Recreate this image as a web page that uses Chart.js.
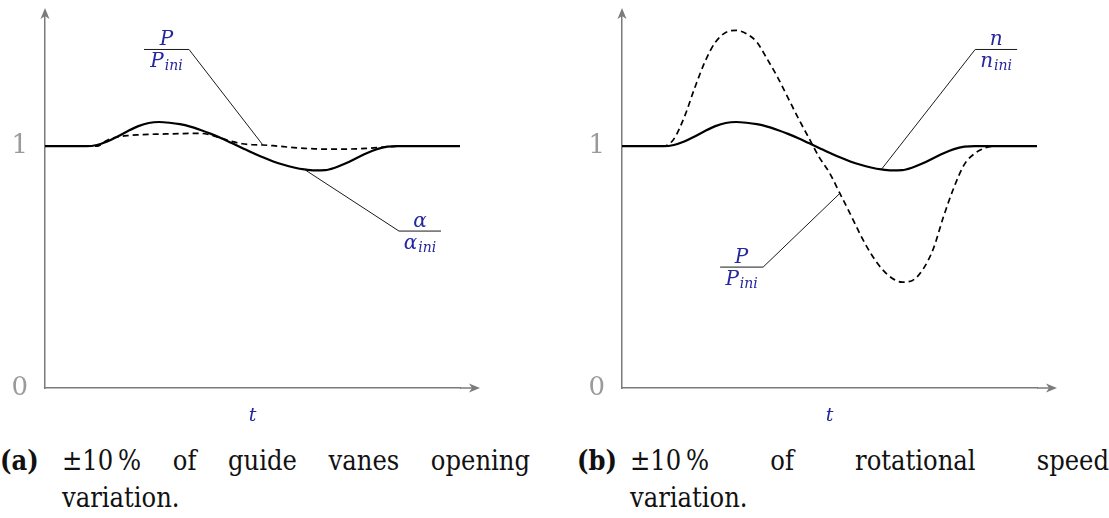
<!DOCTYPE html>
<html>
<head>
<meta charset="utf-8">
<script src="https://cdn.jsdelivr.net/npm/chart.js@4.4.1/dist/chart.umd.min.js"></script>
<style>
  html, body { margin: 0; padding: 0; background: #fff; width: 1109px; height: 518px; overflow: hidden; }
  .panel { position: absolute; top: 0; width: 500px; height: 430px; }
  .caption { position: absolute; top: 442px; display: flex; font-family: 'DejaVu Serif Condensed', 'DejaVu Serif', serif; font-stretch: condensed; font-size: 27px; line-height: 37px; color: #111; }
  .caption .tag { font-weight: bold; }
  .caption .first { text-align: justify; text-align-last: justify; }
</style>
</head>
<body>
<div class="panel" style="left:0"><canvas id="chartVanes"></canvas></div>
<div class="panel" style="left:577px"><canvas id="chartSpeed"></canvas></div>

<div class="caption" style="left:0;width:530px">
  <span class="tag" style="flex:0 0 62px">(a)</span>
  <div style="flex:1"><div class="first">±10&#8239;% of guide vanes opening</div><div>variation.</div></div>
</div>
<div class="caption" style="left:577px;width:532px">
  <span class="tag" style="flex:0 0 53px">(b)</span>
  <div style="flex:1"><div class="first">±10&#8239;% of rotational speed</div><div>variation.</div></div>
</div>

<script>
// time axis (arbitrary units, 0 = start of the run)
const tGrid = [0, 2.5, 5, 7.5, 10, 12.5, 15, 17.5, 20, 22.5, 25, 27.5, 30, 32.5, 35, 37.5, 40,
  42.5, 45, 47.5, 50, 52.5, 55, 57.5, 60, 62.5, 65, 67.5, 70, 72.5, 75, 77.5, 80, 82.5, 85,
  87.5, 90, 92.5, 95, 97.5, 100];

// (a) guide vanes opening alpha/alpha_ini and resulting power P/P_ini
const alphaRatio = [1, 1, 1, 1, 1, 1.005, 1.019, 1.040, 1.063, 1.083, 1.096, 1.100, 1.097, 1.091,
  1.081, 1.067, 1.051, 1.033, 1.013, 0.993, 0.973, 0.954, 0.937, 0.923, 0.912, 0.904, 0.900,
  0.901, 0.912, 0.929, 0.950, 0.971, 0.988, 0.998, 1, 1, 1, 1, 1, 1, 1];
const powerRatioA = [1, 1, 1, 1, 1, 1.000, 1.025, 1.038, 1.044, 1.047, 1.049, 1.050, 1.051, 1.052,
  1.053, 1.053, 1.046, 1.033, 1.020, 1.010, 1.006, 1.005, 1.002, 0.998, 0.994, 0.991, 0.989,
  0.988, 0.988, 0.988, 0.989, 0.991, 0.994, 0.997, 1, 1, 1, 1, 1, 1, 1];

// (b) rotational speed n/n_ini and resulting power P/P_ini
const speedRatio = [1, 1, 1, 1, 1, 1.005, 1.019, 1.040, 1.063, 1.083, 1.096, 1.100, 1.097, 1.091,
  1.081, 1.067, 1.051, 1.033, 1.013, 0.993, 0.973, 0.954, 0.937, 0.923, 0.912, 0.904, 0.900,
  0.901, 0.912, 0.929, 0.950, 0.971, 0.988, 0.998, 1, 1, 1, 1, 1, 1, 1];
const powerRatioB = [1, 1, 1, 1, 1.000, 1.030, 1.120, 1.240, 1.350, 1.430, 1.470, 1.479, 1.465,
  1.430, 1.360, 1.285, 1.200, 1.115, 1.035, 0.955, 0.890, 0.805, 0.720, 0.632, 0.555, 0.495,
  0.455, 0.438, 0.445, 0.490, 0.575, 0.710, 0.830, 0.925, 0.970, 0.993, 1.000, 1, 1, 1, 1];

const yTicks = [0, 1];

const axisGray = '#7b7b7b';
const mathBlue = '#26269e';
const serif = "'DejaVu Serif', serif";

// arrow heads at the end of both axes
const axisArrows = {
  id: 'axisArrows',
  afterDraw(chart) {
    const { ctx, chartArea: { left, right, top, bottom } } = chart;
    ctx.save();
    ctx.strokeStyle = axisGray;
    ctx.fillStyle = axisGray;
    ctx.lineWidth = 1.5;
    ctx.beginPath();
    ctx.moveTo(right, bottom);
    ctx.lineTo(right + 14, bottom);
    ctx.stroke();
    // x arrow
    const xt = right + 20;
    ctx.beginPath();
    ctx.moveTo(xt, bottom);
    ctx.lineTo(xt - 11, bottom - 4.5);
    ctx.lineTo(xt - 8, bottom);
    ctx.lineTo(xt - 11, bottom + 4.5);
    ctx.closePath();
    ctx.fill();
    // y arrow
    const yt = top - 4;
    ctx.beginPath();
    ctx.moveTo(left, yt);
    ctx.lineTo(left - 4.5, yt + 11);
    ctx.lineTo(left, yt + 8);
    ctx.lineTo(left + 4.5, yt + 11);
    ctx.closePath();
    ctx.fill();
    ctx.restore();
  }
};

// fraction labels with a leader line to a point of the curve
function fractionNotes(notes) {
  return {
    id: 'fractionNotes',
    afterDatasetsDraw(chart) {
      const { ctx, scales: { x, y } } = chart;
      notes.forEach(n => {
        const px = x.getPixelForValue(n.at[0]);
        const py = y.getPixelForValue(n.at[1]);
        const pt = chart.getDatasetMeta(n.target[0]).data[n.target[1]];
        const x0 = n.barLeft ? px - n.bar : px;
        const x1 = n.barLeft ? px : px + n.bar;
        const cx = (x0 + x1) / 2;

        ctx.save();
        ctx.strokeStyle = '#1a1a1a';
        ctx.lineWidth = 1;
        ctx.beginPath();
        ctx.moveTo(pt.x, pt.y);
        ctx.lineTo(px, py);
        ctx.moveTo(x0, py);
        ctx.lineTo(x1, py);
        ctx.stroke();

        ctx.fillStyle = mathBlue;
        ctx.textBaseline = 'alphabetic';
        ctx.textAlign = 'center';
        ctx.font = `italic 20px ${serif}`;
        ctx.fillText(n.num, cx, py - 4);

        const baseW = ctx.measureText(n.den).width;
        ctx.font = `italic 14px ${serif}`;
        const subW = ctx.measureText(n.sub).width;
        const start = cx - (baseW + subW + 1) / 2;
        ctx.textAlign = 'left';
        ctx.fillText(n.sub, start + baseW + 1, py + 21);
        ctx.font = `italic 20px ${serif}`;
        ctx.fillText(n.den, start, py + 18);
        ctx.restore();
      });
    }
  };
}

function buildChart(id, solid, dashed, notes) {
  const pts = arr => arr.map((v, i) => ({ x: tGrid[i], y: v }));
  return new Chart(document.getElementById(id), {
    type: 'line',
    data: {
      datasets: [
        { data: pts(solid), borderColor: '#000', borderWidth: 2.2, pointRadius: 0, cubicInterpolationMode: 'monotone' },
        { data: pts(dashed), borderColor: '#000', borderWidth: 1.7, borderDash: [6, 4], pointRadius: 0, cubicInterpolationMode: 'monotone' }
      ]
    },
    options: {
      responsive: true,
      maintainAspectRatio: false,
      animation: false,
      devicePixelRatio: 1,
      layout: { padding: { top: 12, right: 40, left: 0, bottom: 0 } },
      plugins: { legend: { display: false }, tooltip: { enabled: false } },
      scales: {
        x: {
          type: 'linear', min: 0, max: 100,
          grid: { display: false, drawTicks: false },
          border: { display: true, color: axisGray, width: 1.5 },
          ticks: { display: false },
          title: { display: true, text: 't', color: mathBlue, font: { family: serif, size: 19, style: 'italic' }, padding: { top: 0, bottom: 3 } },
          afterFit(s) { s.height = 42; s.paddingLeft = 0; s.paddingRight = 0; }
        },
        y: {
          type: 'linear', min: 0, max: 1.555,
          grid: { display: false, drawTicks: false },
          border: { display: true, color: axisGray, width: 1.5 },
          afterBuildTicks(s) { s.ticks = yTicks.map(v => ({ value: v })); },
          ticks: { color: '#9a9a9a', font: { family: serif, size: 26 }, padding: 17 },
          afterFit(s) { s.width = 45; s.paddingTop = 0; s.paddingBottom = 0; }
        }
      }
    },
    plugins: [axisArrows, fractionNotes(notes)]
  });
}

buildChart('chartVanes', alphaRatio, powerRatioA, [
  { num: 'P', den: 'P', sub: 'ini', at: [34.7, 1.40], bar: 45, barLeft: true, target: [1, 21] },
  { num: 'α', den: 'α', sub: 'ini', at: [85.3, 0.649], bar: 42, barLeft: false, target: [0, 25] }
]);

buildChart('chartSpeed', speedRatio, powerRatioB, [
  { num: 'n', den: 'n', sub: 'ini', at: [85.1, 1.40], bar: 42, barLeft: false, target: [0, 25] },
  { num: 'P', den: 'P', sub: 'ini', at: [34.0, 0.50], bar: 43, barLeft: true, target: [1, 21] }
]);
</script>
</body>
</html>
